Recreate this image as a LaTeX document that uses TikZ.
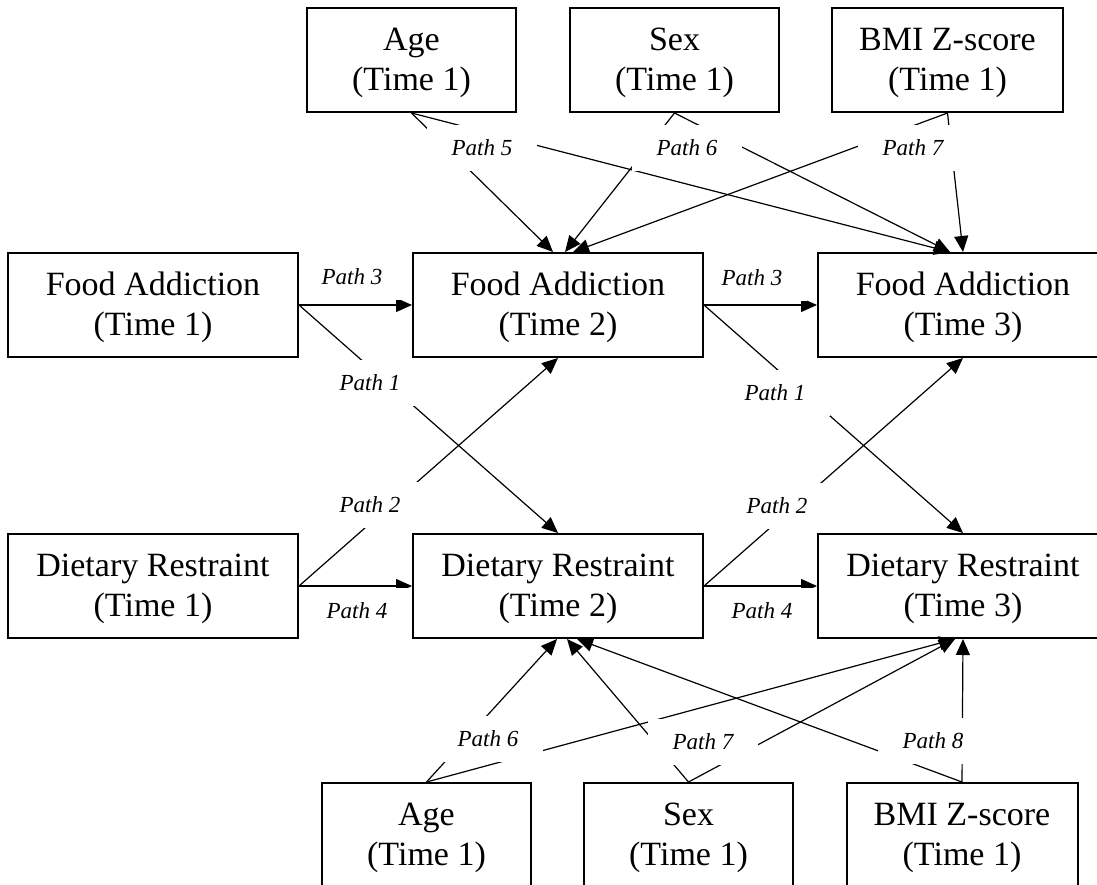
\documentclass[tikz,border=0pt]{standalone}
\usepackage{fontspec}
\setmainfont{Liberation Serif}
\usetikzlibrary{arrows.meta,backgrounds}
\newcommand{\topstrut}{\rule{0pt}{29pt}}
\tikzset{
  varbox/.style={draw, line width=2pt, minimum height=104pt, inner sep=0pt, align=center,
    font=\fontsize{34}{40}\selectfont},
  narrowbox/.style={varbox, minimum width=209pt},
  widebox/.style={varbox, minimum width=231pt},
  mainbox/.style={varbox, minimum width=290pt},
  conn/.style={line width=1.2pt, -{Triangle[length=16pt,width=14pt]}},
  lbl/.style={fill=white, inner sep=0pt, minimum width=110pt, minimum height=46pt,
    font=\fontsize{23}{26}\selectfont\itshape}
}
\begin{document}
\begin{tikzpicture}[x=1pt,y=-1pt]
\useasboundingbox (0,0) rectangle (1097,884);
% top covariates
\node[narrowbox] (TA) at (411.5,60) {\topstrut Age\\(Time 1)};
\node[narrowbox] (TS) at (674.5,60) {\topstrut Sex\\(Time 1)};
\node[widebox]   (TB) at (947.5,60) {\topstrut BMI Z-score\\(Time 1)};
% main variables
\node[mainbox] (FA1) at (153,305) {\topstrut Food Addiction\\(Time 1)};
\node[mainbox] (FA2) at (558,305) {\topstrut Food Addiction\\(Time 2)};
\node[mainbox] (FA3) at (963,305) {\topstrut Food Addiction\\(Time 3)};
\node[mainbox] (DR1) at (153,586) {\topstrut Dietary Restraint\\(Time 1)};
\node[mainbox] (DR2) at (558,586) {\topstrut Dietary Restraint\\(Time 2)};
\node[mainbox] (DR3) at (963,586) {\topstrut Dietary Restraint\\(Time 3)};
% bottom covariates
\node[narrowbox] (BA) at (426.5,835) {\topstrut Age\\(Time 1)};
\node[narrowbox] (BS) at (688.5,835) {\topstrut Sex\\(Time 1)};
\node[widebox]   (BB) at (962,835) {\topstrut BMI Z-score\\(Time 1)};
\begin{scope}[on background layer]
  % top covariate paths
  \draw[conn] (TA.south) -- ([xshift=-5pt]FA2.north);
  \draw[conn] (TS.south) -- ([xshift=7pt]FA2.north);
  \draw[conn] (TB.south) -- ([xshift=15pt]FA2.north);
  \draw[conn] (TA.south) -- ([xshift=-13pt]FA3.north);
  \draw[conn] (TS.south) -- ([xshift=-13pt]FA3.north);
  \draw[conn] (TB.south) -- (FA3.north);
  % stability paths
  \draw[conn] (FA1.east) -- (FA2.west);
  \draw[conn] (FA2.east) -- (FA3.west);
  \draw[conn] (DR1.east) -- (DR2.west);
  \draw[conn] (DR2.east) -- (DR3.west);
  % cross-lagged paths
  \draw[conn] (FA1.east) -- (DR2.north);
  \draw[conn] (DR1.east) -- (FA2.south);
  \draw[conn] (FA2.east) -- (DR3.north);
  \draw[conn] (DR2.east) -- (FA3.south);
  % bottom covariate paths
  \draw[conn] (BA.north) -- ([xshift=-1pt]DR2.south);
  \draw[conn] (BS.north) -- ([xshift=9pt]DR2.south);
  \draw[conn] (BB.north) -- ([xshift=19pt]DR2.south);
  \draw[conn] (BA.north) -- ([xshift=-8pt]DR3.south);
  \draw[conn] (BS.north) -- ([xshift=-8pt]DR3.south);
  \draw[conn] (BB.north) -- (DR3.south);
  % labels
  \node[lbl] (l5) at (482,148) {Path 5};
  \node[lbl] (l6) at (687,148) {Path 6};
  \node[lbl] (l7) at (913,148) {Path 7};
  \node[lbl] (l3a) at (352,277) {Path 3};
  \node[lbl] (l1a) at (370,383) {Path 1};
  \node[lbl] (l2a) at (370,505) {Path 2};
  \node[lbl] (l3b) at (752,278) {Path 3};
  \node[lbl] (l1b) at (775,393) {Path 1};
  \node[lbl] (l2b) at (777,506) {Path 2};
  \node[lbl] (l4a) at (357,611) {Path 4};
  \node[lbl] (l4b) at (762,611) {Path 4};
  \node[lbl] (b6) at (488,739) {Path 6};
  \node[lbl] (b7) at (703,742) {Path 7};
  \node[lbl] (b8) at (933,741) {Path 8};
\end{scope}
\end{tikzpicture}
\end{document}
